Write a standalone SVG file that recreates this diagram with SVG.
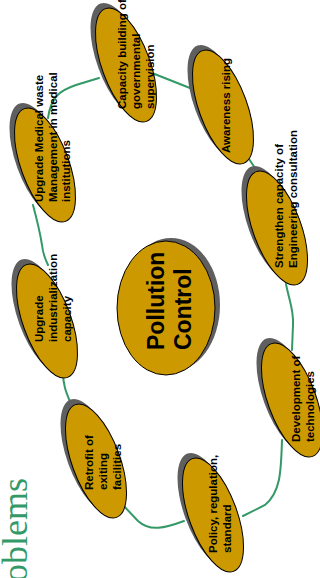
<svg xmlns="http://www.w3.org/2000/svg" width="320" height="578" viewBox="0 0 320 578">
<style>
.sh{fill:#5f5f5f;stroke:none}
.el{fill:#cc9900;stroke:#000;stroke-width:1}
.t{font-family:"Liberation Sans",Arial,sans-serif;font-weight:bold;font-size:11.5px;fill:#000}
.tc{font-family:"Liberation Sans",Arial,sans-serif;font-weight:bold;font-size:23px;fill:#000}
.cn{fill:none;stroke:#339966;stroke-width:2;stroke-linecap:round}
.ttl{font-family:"Liberation Serif","Times New Roman",serif;font-size:36px;fill:#339966}
</style>
<rect width="320" height="578" fill="#fff"/>
<text class="ttl" transform="translate(27,478) rotate(-90)" text-anchor="end">oblems</text>
<g id="connectors">
<path class="cn" d="M48,118 C51,98 58,91 76,85 L99,78"/>
<path class="cn" d="M152,73 L195,90"/>
<path class="cn" d="M247,156 L259,174"/>
<path class="cn" d="M286,284 C289,300 294,310 293,325 L292,350"/>
<path class="cn" d="M282,440 C281,470 281,492 265,505 L243,516"/>
<path class="cn" d="M184,521 C165,528 150,532 138,521 L121,503"/>
<path class="cn" d="M63,372 C63,385 66,392 71,404"/>
<path class="cn" d="M33,205 C37,220 40,232 42,245 C43,255 45,258 48,265"/>
</g>
<g id="n1">
<ellipse class="sh" cx="121" cy="60" rx="24" ry="60" transform="rotate(-20 121 60)"/>
<ellipse class="el" cx="126" cy="65" rx="24" ry="60" transform="rotate(-20 126 65)"/>
<text class="t" transform="translate(125.5,109) rotate(-90)"><tspan x="0" y="0">Capacity building of</tspan><tspan x="0" y="14.3">governmental</tspan><tspan x="0" y="28.6">supervision</tspan></text>
</g>
<g id="n2">
<ellipse class="sh" cx="218" cy="102" rx="24" ry="60" transform="rotate(-20 218 102)"/>
<ellipse class="el" cx="223" cy="107" rx="24" ry="60" transform="rotate(-20 223 107)"/>
<text class="t" transform="translate(229.5,153) rotate(-90)">Awareness rising</text>
</g>
<g id="n3">
<ellipse class="sh" cx="40" cy="160" rx="24" ry="60" transform="rotate(-20 40 160)"/>
<ellipse class="el" cx="45" cy="165" rx="24" ry="60" transform="rotate(-20 45 165)"/>
<text class="t" transform="translate(43,202) rotate(-90)"><tspan x="0" y="0">Upgrade Medical waste</tspan><tspan x="0" y="13.7">Management in medical</tspan><tspan x="0" y="27.4">institutions</tspan></text>
</g>
<g id="n4">
<ellipse class="sh" cx="42" cy="316" rx="24" ry="60" transform="rotate(-20 42 316)"/>
<ellipse class="el" cx="47" cy="321" rx="24" ry="60" transform="rotate(-20 47 321)"/>
<text class="t" transform="translate(43,342) rotate(-90)"><tspan x="0" y="0">Upgrade</tspan><tspan x="0" y="13.8">industrialization</tspan><tspan x="0" y="27.6">capacity</tspan></text>
</g>
<g id="n5">
<ellipse class="sh" cx="91" cy="456" rx="24" ry="60" transform="rotate(-20 91 456)"/>
<ellipse class="el" cx="96" cy="461" rx="24" ry="60" transform="rotate(-20 96 461)"/>
<text class="t" transform="translate(93,490) rotate(-90)"><tspan x="0" y="0">Retrofit of</tspan><tspan x="0" y="14">exiting</tspan><tspan x="0" y="28">facilities</tspan></text>
</g>
<g id="n6">
<ellipse class="sh" cx="208" cy="510" rx="24" ry="60" transform="rotate(-20 208 510)"/>
<ellipse class="el" cx="213" cy="515" rx="24" ry="60" transform="rotate(-20 213 515)"/>
<text class="t" transform="translate(217,553) rotate(-90)"><tspan x="0" y="0">Policy, regulation,</tspan><tspan x="0" y="14">standard</tspan></text>
</g>
<g id="n7">
<ellipse class="sh" cx="287" cy="395" rx="24" ry="60" transform="rotate(-20 287 395)"/>
<ellipse class="el" cx="292" cy="400" rx="24" ry="60" transform="rotate(-20 292 400)"/>
<text class="t" transform="translate(300,442) rotate(-90)"><tspan x="0" y="0">Development of</tspan><tspan x="0" y="13.5">technologies</tspan></text>
</g>
<g id="n8">
<ellipse class="sh" cx="272" cy="223" rx="24" ry="60" transform="rotate(-20 272 223)"/>
<ellipse class="el" cx="277" cy="228" rx="24" ry="60" transform="rotate(-20 277 228)"/>
<text class="t" transform="translate(283,268) rotate(-90)"><tspan x="0" y="0">Strengthen capacity of</tspan><tspan x="0" y="14">Engineering consultation</tspan></text>
</g>
<g id="center">
<ellipse class="sh" cx="171" cy="305" rx="49" ry="67"/>
<ellipse class="el" cx="166" cy="308" rx="49" ry="67"/>
<text class="tc" transform="translate(163.5,350) rotate(-90)"><tspan x="0" y="0">Pollution</tspan><tspan x="0" y="27.5">Control</tspan></text>
</g>
</svg>
